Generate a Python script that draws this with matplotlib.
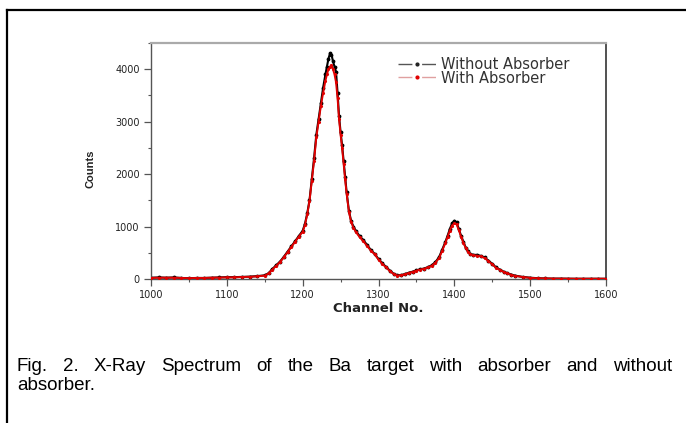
import matplotlib
matplotlib.use("Agg")
import matplotlib.pyplot as plt
from matplotlib.lines import Line2D
from matplotlib.ticker import MultipleLocator

# ---- data ----
channels = [1000, 1010, 1020, 1030, 1040, 1050, 1060, 1070, 1080, 1090,
            1100, 1110, 1120, 1130, 1140, 1150, 1155, 1160, 1165, 1170,
            1175, 1180, 1185, 1190, 1195, 1200, 1203, 1206, 1209, 1212,
            1215, 1218, 1221, 1224, 1227, 1230, 1232, 1234, 1236, 1238,
            1240, 1242, 1244, 1246, 1248, 1250, 1252, 1254, 1256, 1258,
            1261, 1264, 1267, 1270, 1275, 1280, 1285, 1290, 1295, 1300,
            1305, 1310, 1315, 1320, 1325, 1330, 1335, 1340, 1345, 1350,
            1355, 1360, 1365, 1370, 1375, 1380, 1384, 1388, 1391, 1394,
            1397, 1400, 1403, 1406, 1409, 1412, 1415, 1418, 1421, 1425,
            1430, 1435, 1440, 1445, 1450, 1455, 1460, 1465, 1470, 1475,
            1480, 1490, 1500, 1510, 1520, 1530, 1540, 1550, 1560, 1570,
            1580, 1590, 1600]

without_absorber = [25, 30, 25, 30, 20, 15, 20, 20, 25, 30,
                    35, 35, 40, 45, 55, 70, 110, 190, 260, 330,
                    420, 520, 620, 720, 820, 920, 1050, 1250, 1500, 1900,
                    2300, 2750, 3050, 3350, 3650, 3900, 4050, 4200, 4300, 4280,
                    4150, 4050, 3950, 3550, 3100, 2800, 2550, 2250, 1950, 1650,
                    1300, 1100, 1000, 920, 820, 740, 650, 550, 480, 380,
                    300, 230, 160, 100, 70, 75, 95, 120, 140, 165,
                    185, 200, 225, 260, 320, 420, 560, 700, 820, 950,
                    1060, 1110, 1080, 950, 820, 710, 600, 530, 480, 460,
                    460, 440, 410, 350, 290, 220, 180, 140, 110, 85,
                    65, 40, 25, 15, 10, 8, 8, 6, 5, 5,
                    5, 5, 5]

with_absorber = [20, 25, 25, 25, 20, 15, 20, 20, 25, 28,
                 30, 32, 38, 42, 50, 65, 105, 180, 250, 320,
                 410, 510, 610, 710, 810, 900, 1030, 1230, 1480, 1870,
                 2250, 2700, 3000, 3300, 3550, 3780, 3900, 4000, 4050, 4080,
                 4000, 3900, 3750, 3450, 3050, 2750, 2500, 2200, 1900, 1620,
                 1280, 1080, 980, 900, 800, 720, 630, 540, 470, 370,
                 290, 220, 150, 95, 65, 72, 90, 115, 135, 160,
                 180, 195, 220, 250, 310, 400, 540, 680, 800, 920,
                 1020, 1060, 1040, 930, 800, 690, 590, 520, 470, 450,
                 445, 430, 400, 340, 280, 215, 175, 135, 105, 80,
                 60, 38, 22, 14, 10, 8, 7, 6, 5, 5,
                 5, 5, 5]

series_labels = ["Without Absorber", "With Absorber"]
x_ticks = [1000, 1100, 1200, 1300, 1400, 1500, 1600]
y_ticks = [0, 1000, 2000, 3000, 4000]
caption_line1 = "Fig. 2. X-Ray Spectrum of the Ba target with absorber and without"
caption_line2 = "absorber."

W, H = 686, 423
fig = plt.figure(figsize=(W / 100, H / 100), dpi=100)
fig.patch.set_facecolor("white")

# outer frame (top and left edges visible)
fig.add_artist(Line2D([7 / W, 7 / W], [0, 1 - 10 / H], transform=fig.transFigure,
                      color="black", lw=1.6))
fig.add_artist(Line2D([7 / W, 1], [1 - 10 / H, 1 - 10 / H], transform=fig.transFigure,
                      color="black", lw=1.6))

ax = fig.add_axes([151 / W, 1 - 279 / H, (606 - 151) / W, (279 - 43) / H])
ax.plot(channels, without_absorber, color="black", lw=1.5, marker=".", ms=3.5, zorder=2)
ax.plot(channels, with_absorber, color="#e00000", lw=1.4, marker=".", ms=2.5, zorder=3)

ax.set_xlim(1000, 1600)
ax.set_ylim(0, 4500)
ax.set_xticks(x_ticks)
ax.set_yticks(y_ticks)
ax.xaxis.set_minor_locator(MultipleLocator(50))
ax.yaxis.set_minor_locator(MultipleLocator(500))
ax.tick_params(which="major", direction="out", length=5, width=0.9, color="#555",
               labelsize=7, labelcolor="#222", pad=3)
ax.tick_params(which="minor", direction="out", length=2.5, width=0.8, color="#555")

ax.spines["top"].set_color("#aaaaaa")
ax.spines["top"].set_linewidth(1.6)
ax.spines["right"].set_color("#333333")
ax.spines["right"].set_linewidth(1.2)
ax.spines["left"].set_color("#555555")
ax.spines["left"].set_linewidth(1.0)
ax.spines["bottom"].set_color("#555555")
ax.spines["bottom"].set_linewidth(1.0)

ax.set_xlabel("Channel No.", fontsize=9.5, fontweight="bold", color="#222", labelpad=1.5)
fig.text(91 / W, 1 - 169 / H, "Counts", rotation=90, ha="center", va="center",
         fontsize=8, fontweight="bold", family="Liberation Sans", color="#222")

handles = [
    Line2D([], [], color="#555555", lw=1.0, linestyle=(0, (10, 7)),
           marker=".", ms=4, markerfacecolor="#222", markeredgecolor="#222"),
    Line2D([], [], color="#e0a0a0", lw=1.0, linestyle=(0, (10, 7)),
           marker=".", ms=4, markerfacecolor="#e00000", markeredgecolor="#e00000"),
]
fig.legend(handles, series_labels, loc="upper left",
           bbox_to_anchor=(398 / W, 1 - 57 / H), frameon=False,
           fontsize=10.5, labelcolor="#333", handlelength=2.6, handletextpad=0.35,
           borderpad=0, borderaxespad=0, labelspacing=-0.1, numpoints=1)

# caption with justified first line
cap_font = dict(fontsize=13.5, family="Liberation Sans", color="black")
renderer = fig.canvas.get_renderer()
words = caption_line1.split(" ")
x0, x1 = 17, 672
texts = [fig.text(0, 0, w, **cap_font) for w in words]
widths = [t.get_window_extent(renderer).width for t in texts]
gap = (x1 - x0 - sum(widths)) / (len(words) - 1)
x = x0
for t, wdt in zip(texts, widths):
    t.set_position((x / W, 1 - 371 / H))
    t.set_va("baseline")
    x += wdt + gap
fig.text(x0 / W, 1 - 390 / H, caption_line2, va="baseline", **cap_font)

fig.savefig("out.png", dpi=100, facecolor="white")
